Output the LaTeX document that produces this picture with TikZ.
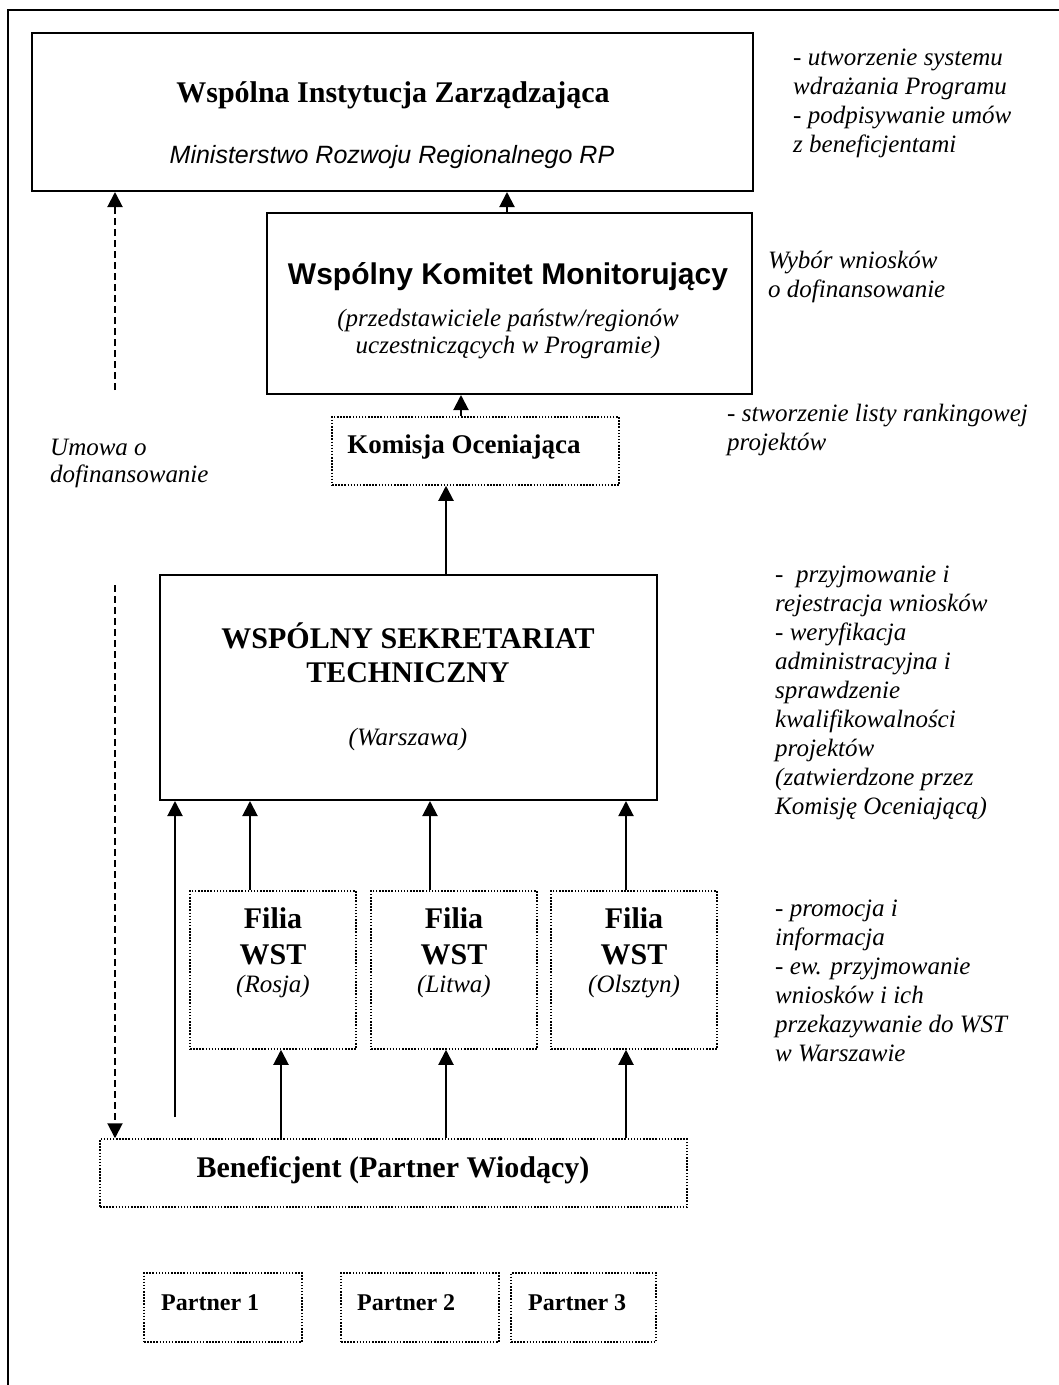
\documentclass[tikz,border=0pt]{standalone}
\usepackage{fontspec}
\setmainfont{Liberation Serif}
\setsansfont{Liberation Sans}
\usetikzlibrary{arrows.meta}
\newcommand{\bigbf}{\fontsize{30}{34}\selectfont\bfseries}
\newcommand{\sideit}{\fontsize{25}{29}\selectfont\itshape}
\tikzset{
  box/.style={draw, line width=2pt, inner sep=0pt},
  dotbox/.style={draw, line width=1.5pt, dash pattern=on 1.5pt off 1.6pt, inner sep=0pt},
  arr/.style={line width=2pt, -{Triangle[width=15pt,length=15pt]}},
  darr/.style={arr, dash pattern=on 7pt off 4pt},
  txt/.style={anchor=base, inner sep=0pt, align=center},
  side/.style={anchor=base west, inner sep=0pt, align=left, font=\sideit},
}
\begin{document}
\begin{tikzpicture}[x=1pt,y=-1pt]
\useasboundingbox (0,0) rectangle (1059,1385);
% outer frame (only top and left visible)
\draw[line width=2pt] (8,1385) -- (8,10) -- (1059,10);

% boxes
\node[box, minimum width=721pt, minimum height=158pt] (wiz) at (392.5,112) {};
\node[box, minimum width=485pt, minimum height=181pt] (wkm) at (509.5,303.5) {};
\node[dotbox, minimum width=287pt, minimum height=68pt] (kom) at (475.5,451) {};
\node[box, minimum width=497pt, minimum height=225pt] (wst) at (408.5,687.5) {};
\node[dotbox, minimum width=166pt, minimum height=158pt] (f1) at (273,970) {};
\node[dotbox, minimum width=166pt, minimum height=158pt] (f2) at (454,970) {};
\node[dotbox, minimum width=166pt, minimum height=158pt] (f3) at (634,970) {};
\node[dotbox, minimum width=587pt, minimum height=68pt] (ben) at (393.5,1173) {};
\node[dotbox, minimum width=158pt, minimum height=69pt] (p1) at (223,1307.5) {};
\node[dotbox, minimum width=158pt, minimum height=69pt] (p2) at (420,1307.5) {};
\node[dotbox, minimum width=145pt, minimum height=69pt] (p3) at (583.5,1307.5) {};

% texts in boxes (multi-line nodes: base = baseline of last line)
\node[txt, font=\bigbf] (wizt) at (393,102) {Wspólna Instytucja Zarządzająca};
\node[txt, font=\fontsize{25}{29}\selectfont\sffamily\itshape] (wizs) at (392,163) {Ministerstwo Rozwoju Regionalnego RP};
\node[txt, font=\fontsize{30}{34}\selectfont\sffamily\bfseries] (wkmt) at (508,284) {Wspólny Komitet Monitorujący};
\node[txt, font=\fontsize{25}{27}\selectfont\itshape] (wkms) at (508,353) {(przedstawiciele państw/regionów\\uczestniczących w Programie)};
\node[txt, font=\fontsize{27}{30}\selectfont\bfseries] (komt) at (464,453) {Komisja Oceniająca};
\node[txt, font=\bigbf] (wstt) at (408,682) {WSPÓLNY SEKRETARIAT\\TECHNICZNY};
\node[txt, font=\fontsize{25}{29}\selectfont\itshape] (wsts) at (408,745) {(Warszawa)};
\node[txt, font=\fontsize{30}{36}\selectfont\bfseries] (f1t) at (273,964) {Filia\\WST};
\node[txt, font=\fontsize{30}{36}\selectfont\bfseries] (f2t) at (454,964) {Filia\\WST};
\node[txt, font=\fontsize{30}{36}\selectfont\bfseries] (f3t) at (634,964) {Filia\\WST};
\node[txt, font=\fontsize{25}{29}\selectfont\itshape] (f1s) at (273,992) {(Rosja)};
\node[txt, font=\fontsize{25}{29}\selectfont\itshape] (f2s) at (454,992) {(Litwa)};
\node[txt, font=\fontsize{25}{29}\selectfont\itshape] (f3s) at (634,992) {(Olsztyn)};
\node[txt, font=\bigbf] (bent) at (393,1177) {Beneficjent (Partner Wiodący)};
\node[anchor=base west, inner sep=0pt, font=\fontsize{24}{28}\selectfont\bfseries] (p1t) at (161,1310) {Partner 1};
\node[anchor=base west, inner sep=0pt, font=\fontsize{24}{28}\selectfont\bfseries] (p2t) at (357,1310) {Partner 2};
\node[anchor=base west, inner sep=0pt, font=\fontsize{24}{28}\selectfont\bfseries] (p3t) at (528,1310) {Partner 3};

% side texts
\node[side] (s1) at (793,152) {- utworzenie systemu\\wdrażania Programu\\- podpisywanie umów\\z beneficjentami};
\node[side] (s2) at (768,297) {Wybór wniosków\\o dofinansowanie};
\node[side] (s3) at (727,450) {- stworzenie listy rankingowej\\projektów};
\node[side] (s4) at (775,814) {-\ \ przyjmowanie i\\rejestracja wniosków\\- weryfikacja\\administracyjna i\\sprawdzenie\\kwalifikowalności\\projektów\\(zatwierdzone przez\\Komisję Oceniającą)};
\node[side] (s5) at (775,1061) {- promocja i\\informacja\\- ew. przyjmowanie\\wniosków i ich\\przekazywanie do WST\\w Warszawie};
\node[side, font=\fontsize{25}{27}\selectfont\itshape] (umowa) at (50,482) {Umowa o\\dofinansowanie};

% connectors
\draw[arr] (wkm.north -| 507,0) -- (wiz.south -| 507,0);
\draw[arr] (kom.north -| 461,0) -- (wkm.south -| 461,0);
\draw[arr] (wst.north -| 446,0) -- (kom.south -| 446,0);
\draw[arr] (f1.north -| 250,0) -- (wst.south -| 250,0);
\draw[arr] (f2.north -| 430,0) -- (wst.south -| 430,0);
\draw[arr] (f3.north -| 626,0) -- (wst.south -| 626,0);
\coordinate (sfree) at (175,1117);
\draw[arr] (sfree) -- (sfree |- wst.south);
\draw[arr] (ben.north -| 281,0) -- (f1.south -| 281,0);
\draw[arr] (ben.north -| 446,0) -- (f2.south -| 446,0);
\draw[arr] (ben.north -| 626,0) -- (f3.south -| 626,0);
\coordinate (dup) at (115,390);
\draw[darr] (dup) -- (dup |- wiz.south);
\coordinate (ddown) at (115,585);
\draw[darr] (ddown) -- (ddown |- ben.north);
\end{tikzpicture}
\end{document}
